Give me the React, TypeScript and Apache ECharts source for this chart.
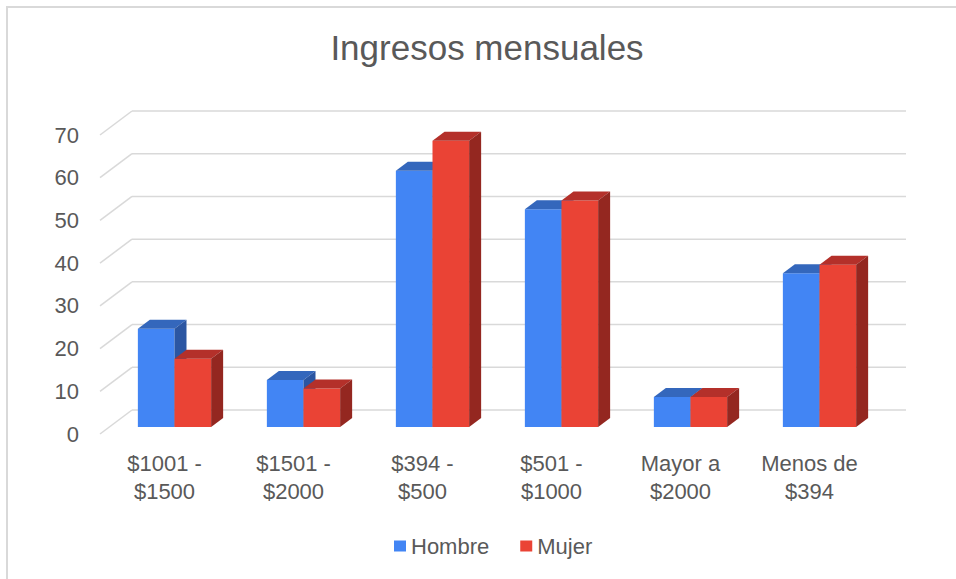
import React, { useEffect, useRef } from "react";
import * as echarts from "echarts";

const categories = ["$1001 -\n$1500", "$1501 -\n$2000", "$394 -\n$500", "$501 -\n$1000", "Mayor a\n$2000", "Menos de\n$394"];
const hombre = [23, 11, 60, 51, 7, 36];
const mujer = [16, 9, 67, 53, 7, 38];
const yTicks = [0, 10, 20, 30, 40, 50, 60, 70];
const seriesNames = ["Hombre", "Mujer"];

const FRONT = ["#4285F4", "#EA4335"];
const TOP = ["#3467BC", "#B4302A"];
const SIDE = ["#2B56A2", "#942720"];

const DEPTH_X = 32;
const DEPTH_Y = 24;
const BAR_OFF_X = 10;
const BAR_OFF_Y = 7;
const BAR_DX = 12;
const BAR_DY = 9;

export default function App() {
  const ref = useRef<HTMLDivElement>(null);
  useEffect(() => {
    if (!ref.current) return;
    const chart = echarts.init(ref.current, null, { renderer: "svg" });
    const textColor = "#595959";
    const font = "'Liberation Sans', Arial, sans-serif";

    const barRender = (sIdx: number) => (params: any, api: any) => {
      const i = api.value(0);
      const v = api.value(1);
      const base = api.coord([i, 0]);
      const top = api.coord([i, v]);
      const bw = api.size([1, 0])[0] * 0.284;
      const cx = base[0] + BAR_OFF_X;
      const x0 = sIdx === 0 ? cx - bw : cx;
      const x1 = x0 + bw;
      const yb = base[1] - BAR_OFF_Y;
      const yt = top[1] - BAR_OFF_Y;
      return {
        type: "group",
        children: [
          {
            type: "rect",
            shape: { x: x0, y: yt, width: bw, height: yb - yt },
            style: { fill: FRONT[sIdx] },
          },
          {
            type: "polygon",
            shape: { points: [[x0, yt], [x1, yt], [x1 + BAR_DX, yt - BAR_DY], [x0 + BAR_DX, yt - BAR_DY]] },
            style: { fill: TOP[sIdx] },
          },
          {
            type: "polygon",
            shape: { points: [[x1, yt], [x1 + BAR_DX, yt - BAR_DY], [x1 + BAR_DX, yb - BAR_DY], [x1, yb]] },
            style: { fill: SIDE[sIdx] },
          },
        ],
      };
    };

    chart.setOption({
      animation: false,
      backgroundColor: "#ffffff",
      textStyle: { fontFamily: font },
      title: {
        text: "Ingresos mensuales",
        left: 482,
        textAlign: "center",
        top: 25,
        textStyle: { color: textColor, fontSize: 35, fontWeight: "normal", fontFamily: font },
      },
      legend: {
        data: seriesNames,
        left: 389,
        top: 530,
        itemWidth: 12,
        itemHeight: 11,
        itemGap: 31,
        icon: "rect",
        textStyle: { color: textColor, fontSize: 22, fontFamily: font },
      },
      graphic: [
        {
          type: "rect",
          shape: { x: 7, y: 7, width: 1200, height: 1200 },
          style: { fill: "none", stroke: "#d9d9d9", lineWidth: 2 },
          silent: true,
        },
      ],
      grid: { left: 100, top: 135, width: 774, height: 299 },
      xAxis: {
        type: "category",
        data: categories,
        axisLine: { show: false },
        axisTick: { show: false },
        axisLabel: { color: textColor, fontSize: 22, lineHeight: 28, margin: 15, fontFamily: font, interval: 0 },
      },
      yAxis: {
        type: "value",
        min: 0,
        max: 70,
        interval: 10,
        axisLine: { show: false },
        axisTick: { show: false },
        splitLine: { show: false },
        axisLabel: { color: textColor, fontSize: 22, margin: 21, fontFamily: font },
      },
      series: [
        {
          type: "custom",
          name: "grid3d",
          silent: true,
          data: yTicks.map((t) => [0, t]),
          renderItem: (params: any, api: any) => {
            const v = api.value(1);
            const y = api.coord([0, v])[1];
            const cs = params.coordSys;
            const x0 = cs.x;
            const x1 = cs.x + cs.width;
            return {
              type: "group",
              children: [
                {
                  type: "line",
                  shape: { x1: x0, y1: y, x2: x0 + DEPTH_X, y2: y - DEPTH_Y },
                  style: { stroke: "#d9d9d9", lineWidth: 1.5 },
                },
                {
                  type: "line",
                  shape: { x1: x0 + DEPTH_X, y1: y - DEPTH_Y, x2: x1 + DEPTH_X, y2: y - DEPTH_Y },
                  style: { stroke: "#d9d9d9", lineWidth: 1.5 },
                },
              ],
            };
          },
          z: 1,
        },
        {
          type: "custom",
          name: "Hombre",
          itemStyle: { color: FRONT[0] },
          data: hombre.map((v, i) => [i, v]),
          renderItem: barRender(0),
          z: 2,
        },
        {
          type: "custom",
          name: "Mujer",
          itemStyle: { color: FRONT[1] },
          data: mujer.map((v, i) => [i, v]),
          renderItem: barRender(1),
          z: 2,
        },
      ],
    });
    return () => chart.dispose();
  }, []);
  return (
    <div
      ref={ref}
      style={{ position: "fixed", left: 0, top: 0, width: 956, height: 579 }}
    />
  );
}
